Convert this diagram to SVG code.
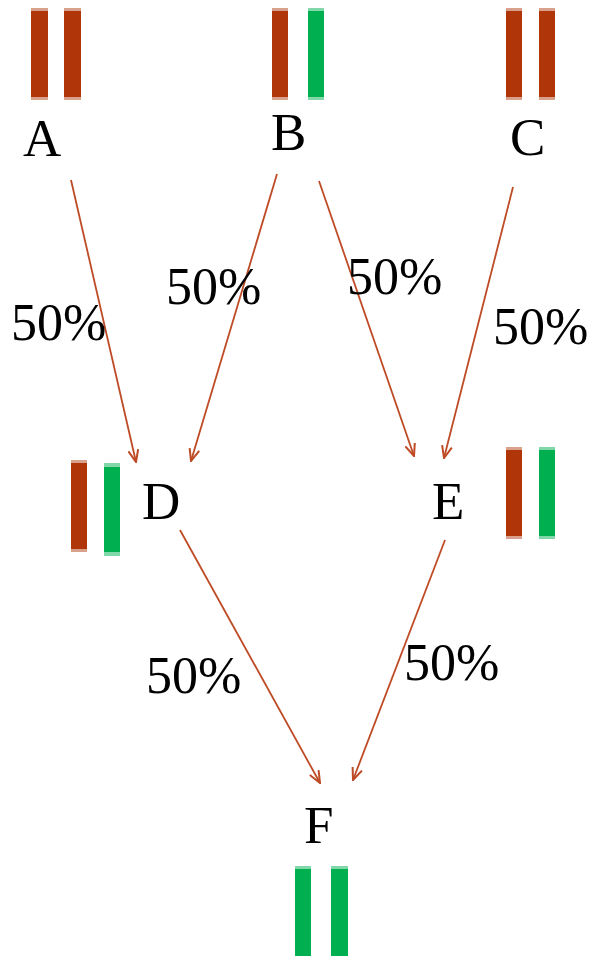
<svg xmlns="http://www.w3.org/2000/svg" width="591" height="956" viewBox="0 0 591 956">
<defs>
<style>
.r{fill:#B0360A}
.g{fill:#00B050}
.rc{fill:#D9A08C}
.gc{fill:#80D7A7}
.lbl{font-family:"Liberation Serif","Times New Roman",serif;font-size:53px;fill:#000}
.pct{font-family:"Liberation Serif","Times New Roman",serif;font-size:52px;fill:#000}
.edge{stroke:#BE4B25;stroke-width:1.8;fill:none;marker-end:url(#ah)}
</style>
<marker id="ah" viewBox="0 0 14 12" refX="13" refY="6" markerWidth="14" markerHeight="12" markerUnits="userSpaceOnUse" orient="auto">
<path d="M1,1 L13,6 L1,11" fill="none" stroke="#BE4B25" stroke-width="2"/>
</marker>
</defs>
<rect width="591" height="956" fill="#fff"/>
<g id="A">
<rect class="rc" x="31" y="8" width="17" height="92"/><rect class="r" x="31" y="11" width="17" height="86"/>
<rect class="rc" x="64" y="8" width="17" height="92"/><rect class="r" x="64" y="11" width="17" height="86"/>
<text class="lbl" x="23" y="156">A</text>
</g>
<g id="B">
<rect class="rc" x="272" y="8" width="16" height="92"/><rect class="r" x="272" y="11" width="16" height="86"/>
<rect class="gc" x="308" y="8" width="16" height="92"/><rect class="g" x="308" y="11" width="16" height="86"/>
<text class="lbl" x="271" y="150">B</text>
</g>
<g id="C">
<rect class="rc" x="506" y="8" width="16" height="92"/><rect class="r" x="506" y="11" width="16" height="86"/>
<rect class="rc" x="539" y="8" width="16" height="92"/><rect class="r" x="539" y="11" width="16" height="86"/>
<text class="lbl" x="510" y="155">C</text>
</g>
<g id="D">
<rect class="rc" x="71" y="460" width="16" height="92"/><rect class="r" x="71" y="463" width="16" height="86"/>
<rect class="gc" x="104" y="463" width="16" height="93"/><rect class="g" x="104" y="467" width="16" height="85"/>
<text class="lbl" x="142" y="519">D</text>
</g>
<g id="E">
<rect class="rc" x="506" y="447" width="16" height="92"/><rect class="r" x="506" y="450" width="16" height="86"/>
<rect class="gc" x="539" y="447" width="16" height="92"/><rect class="g" x="539" y="450" width="16" height="86"/>
<text class="lbl" x="432" y="519">E</text>
</g>
<g id="F">
<rect class="gc" x="295" y="866" width="16" height="92"/><rect class="g" x="295" y="869" width="16" height="90"/>
<rect class="gc" x="331" y="866" width="17" height="92"/><rect class="g" x="331" y="869" width="17" height="90"/>
<text class="lbl" x="304" y="843">F</text>
</g>
<g id="connectors">
<line class="edge" x1="71" y1="180" x2="136" y2="462"/>
<line class="edge" x1="277" y1="174" x2="191" y2="461"/>
<line class="edge" x1="319" y1="181" x2="414" y2="456"/>
<line class="edge" x1="513" y1="187" x2="444" y2="458"/>
<line class="edge" x1="180" y1="530" x2="320" y2="783"/>
<line class="edge" x1="445" y1="540" x2="353" y2="780"/>
</g>
<g id="labels">
<text class="pct" x="11" y="340">50%</text>
<text class="pct" x="166" y="304">50%</text>
<text class="pct" x="347" y="294">50%</text>
<text class="pct" x="493" y="344">50%</text>
<text class="pct" x="146" y="693">50%</text>
<text class="pct" x="404" y="680">50%</text>
</g>
</svg>
